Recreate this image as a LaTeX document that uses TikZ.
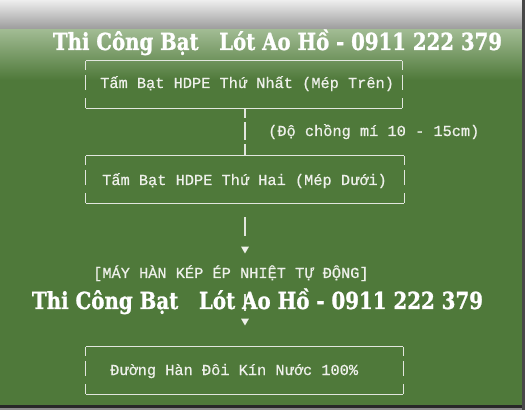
\documentclass[tikz,border=0pt]{standalone}
\usepackage{fontspec}
\usepackage{graphicx}
\usetikzlibrary{calc,shapes.geometric}
\newfontfamily\monof[FakeBold=0.6]{Liberation Mono}
\newfontfamily\markf[FakeBold=1.2]{DejaVu Serif}
\definecolor{bggreen}{RGB}{79,121,58}
\definecolor{topgreen}{RGB}{162,188,148}
\definecolor{graytop}{RGB}{238,238,238}
\definecolor{graybot}{RGB}{156,156,156}
\definecolor{txtc}{RGB}{238,240,234}
\definecolor{lnc}{RGB}{226,230,222}
\definecolor{darkbar}{RGB}{40,40,40}
\definecolor{edgegray}{RGB}{140,140,140}
\newcommand\asciibox[1]{%
  \draw[boxline] (#1.north west) -- (#1.north east);
  \draw[boxline] (#1.south west) -- (#1.south east);
  \foreach \s in {west,east}{
    \draw[boxline] (#1.north \s) -- ++(0,-9);
    \draw[boxline] ($(#1.north \s)+(0,-14)$) -- ++(0,-15);
    \draw[boxline] (#1.south \s) -- ++(0,10);
  }%
}
\tikzset{
  boxnode/.style={minimum width=#1, minimum height=47pt, inner sep=0pt},
  boxline/.style={draw=lnc, line width=1.1pt},
  conn/.style={draw=lnc, line width=1.1pt},
  monotext/.style={font=\monof\fontsize{15.3}{18}\selectfont, text=txtc, inner sep=0pt, anchor=base west},
  watermark/.style={font=\markf\bfseries\fontsize{23.5}{28}\selectfont, text=white, inner sep=0pt, anchor=base},
  tri/.style={regular polygon, regular polygon sides=3, shape border rotate=180, fill=txtc, inner sep=0pt, minimum size=9pt}
}
\begin{document}
\begin{tikzpicture}[x=1pt,y=1pt]
\useasboundingbox (0,0) rectangle (525,410);
% background
\fill[bggreen] (0,0) rectangle (525,410);
\shade[top color=topgreen, bottom color=bggreen] (0,330) rectangle (525,381);
\shade[top color=graytop, bottom color=graybot] (0,381) rectangle (525,410);
\fill[edgegray] (0,0) rectangle (525,2);
\fill[darkbar] (0,2) rectangle (525,5);
\fill[darkbar!85] (522,0) rectangle (525,410);

% boxes
\node[boxnode=316pt] (b1) at (244,325.5) {};
\node[boxnode=318pt] (b2) at (245,230.5) {};
\node[boxnode=317pt] (b3) at (244.5,39.5) {};
\asciibox{b1}
\asciibox{b2}
\asciibox{b3}

% texts
\node[monotext] (t1) at (100,322) {Tấm Bạt HDPE Thứ Nhất (Mép Trên)};
\node[monotext] (t2) at (102,225) {Tấm Bạt HDPE Thứ Hai (Mép Dưới)};
\node[monotext] (t3) at (110,35) {Đường Hàn Đôi Kín Nước 100\%};
\node[monotext] (lab1) at (268,274) {(Độ chồng mí 10 - 15cm)};
\node[monotext] (lab2) at (93,132) {[MÁY HÀN KÉP ÉP NHIỆT TỰ ĐỘNG]};

% arrowheads
\node[tri] (a1) at (245,161) {};
\node[tri] (a2) at (245,89) {};

% connectors
\draw[conn, dash pattern=on 10pt off 4pt on 18pt off 4pt on 20pt off 0pt] (b2.north |- b1.south) -- (b2.north);
\draw[conn, shorten <=14pt, shorten >=11pt] (b2.south) -- (b2.south |- a1.north);
\draw[conn, shorten <=13pt, shorten >=8pt] (a2.north |- lab2.south) -- (a2.north);

% watermarks
\node[watermark] (w1) at (277.5,360) {\resizebox{449pt}{\height}{Thi Công Bạt\ \ \ Lót Ao Hồ - 0911 222 379}};
\node[watermark] (w2) at (257.5,101) {\resizebox{451pt}{\height}{Thi Công Bạt\ \ \ Lót Ao Hồ - 0911 222 379}};
\end{tikzpicture}
\end{document}
